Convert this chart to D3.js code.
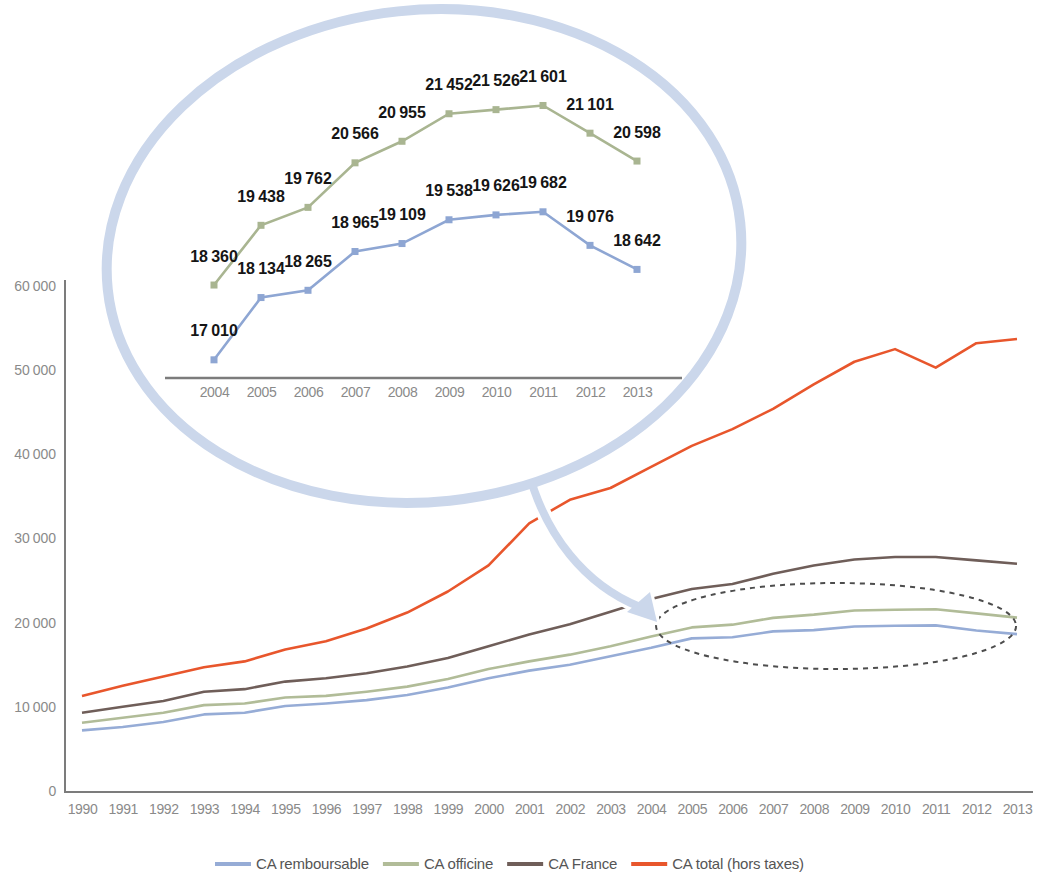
<!DOCTYPE html>
<html lang="fr">
<head>
<meta charset="utf-8">
<title>Chiffre d'affaires des officines</title>
<script src="https://d3js.org/d3.v7.min.js"></script>
<style>
  body { margin: 0; background: #fff; }
  text { font-family: "Liberation Sans", Arial, sans-serif; }
  .axis text { fill: #8a8a8a; font-size: 14px; letter-spacing: -0.4px; }
  .axis path { display: none; }
  .lbl { font-family: "Liberation Sans Narrow", "Arial Narrow", sans-serif; font-weight: bold; font-size: 16px; fill: #151515; letter-spacing: 0.3px; }
  .legend text { fill: #555; font-size: 15px; letter-spacing: -0.2px; }
</style>
</head>
<body>
<div id="chart"></div>
<script>
// main chart, 1990-2013 (millions d'euros)
var years = [1990, 1991, 1992, 1993, 1994, 1995, 1996, 1997, 1998, 1999, 2000, 2001,
             2002, 2003, 2004, 2005, 2006, 2007, 2008, 2009, 2010, 2011, 2012, 2013];
var caRemboursable = [7200, 7600, 8200, 9100, 9300, 10100, 10400, 10800, 11400, 12300, 13400, 14300,
                      15000, 16000, 17010, 18134, 18265, 18965, 19109, 19538, 19626, 19682, 19076, 18642];
var caOfficine = [8100, 8700, 9300, 10200, 10400, 11100, 11300, 11800, 12400, 13300, 14500, 15400,
                  16200, 17200, 18360, 19438, 19762, 20566, 20955, 21452, 21526, 21601, 21101, 20598];
var caFrance = [9300, 10000, 10700, 11800, 12100, 13000, 13400, 14000, 14800, 15800, 17200, 18600,
                19800, 21300, 22800, 24000, 24600, 25800, 26800, 27500, 27800, 27800, 27400, 27000];
var caTotal = [11300, 12500, 13600, 14700, 15400, 16800, 17800, 19300, 21200, 23700, 26800, 31800,
               34600, 36000, 38500, 41000, 43000, 45400, 48300, 51000, 52500, 50300, 53200, 53700];
var seriesNames = ["CA remboursable", "CA officine", "CA France", "CA total (hors taxes)"];
var seriesColors = ["#96acd6", "#b1bc98", "#6f5e59", "#e8562c"];
var yTicks = [0, 10000, 20000, 30000, 40000, 50000, 60000];

// zoom 2004-2013
var zoomYears = [2004, 2005, 2006, 2007, 2008, 2009, 2010, 2011, 2012, 2013];
var zoomOfficine = [18360, 19438, 19762, 20566, 20955, 21452, 21526, 21601, 21101, 20598];
var zoomRemboursable = [17010, 18134, 18265, 18965, 19109, 19538, 19626, 19682, 19076, 18642];
var zoomColors = ["#a9b591", "#8ea6d3"];

var width = 1038, height = 875;
var fr = d3.formatLocale({ decimal: ",", thousands: "\u202f", grouping: [3], currency: ["", " €"] });
var fmt = fr.format(",d");

var svg = d3.select("#chart").append("svg")
    .attr("width", width)
    .attr("height", height);
svg.append("rect").attr("width", width).attr("height", height).attr("fill", "#fff");

var x = d3.scalePoint().domain(years).range([82, 1017]);
var y = d3.scaleLinear().domain([0, 60000]).range([791, 286]);

// axes
svg.append("g").attr("class", "axis")
    .attr("transform", "translate(65,0)")
    .call(d3.axisLeft(y).tickValues(yTicks).tickSize(0).tickPadding(9).tickFormat(fmt));
svg.append("g").attr("class", "axis")
    .attr("transform", "translate(0,792)")
    .call(d3.axisBottom(x).tickSize(0).tickPadding(12));
svg.append("path")
    .attr("d", "M65,280V792H1033")
    .attr("fill", "none").attr("stroke", "#7c7c7c").attr("stroke-width", 2);

// main lines
var mainSeries = [caRemboursable, caOfficine, caFrance, caTotal];
var line = d3.line()
    .x(function (d, i) { return x(years[i]); })
    .y(function (d) { return y(d); });
svg.append("g").selectAll("path")
    .data(mainSeries)
    .enter().append("path")
    .attr("d", line)
    .attr("fill", "none")
    .attr("stroke", function (d, i) { return seriesColors[i]; })
    .attr("stroke-width", 2.6)
    .attr("stroke-linejoin", "round");

// dashed ellipse around 2004-2013
svg.append("ellipse")
    .attr("cx", (x(2004) + x(2013)) / 2 + 2).attr("cy", 626)
    .attr("rx", 180).attr("ry", 43)
    .attr("fill", "none").attr("stroke", "#4d4d4d")
    .attr("stroke-width", 2).attr("stroke-dasharray", "5,5");

// arrow from bubble to dashed ellipse
var shaft = "M528,470C545,535 585,585 640,607";
svg.append("path").attr("d", shaft).attr("fill", "none")
    .attr("stroke", "#fff").attr("stroke-width", 15);
svg.append("path").attr("d", "M657,622L627,612L650,592Z")
    .attr("fill", "#fff").attr("stroke", "#fff").attr("stroke-width", 6).attr("stroke-linejoin", "round");
svg.append("path").attr("d", shaft).attr("fill", "none")
    .attr("stroke", "#cbd7eb").attr("stroke-width", 8);
svg.append("path").attr("d", "M657,622L627,612L650,592Z").attr("fill", "#cbd7eb");

// bubble
svg.append("ellipse")
    .attr("cx", 424).attr("cy", 256).attr("rx", 318).attr("ry", 246)
    .attr("transform", "rotate(-6,424,256)")
    .attr("fill", "#fff").attr("stroke", "#cbd7eb").attr("stroke-width", 10);

// zoom chart
var zx = d3.scalePoint().domain(zoomYears).range([214, 637]);
var zy = d3.scaleLinear().domain([16700, 21700]).range([377, 100]);
svg.append("g").attr("class", "axis")
    .attr("transform", "translate(0,378)")
    .call(d3.axisBottom(zx).tickSize(0).tickPadding(9));
svg.append("line")
    .attr("x1", 165).attr("x2", 682).attr("y1", 378).attr("y2", 378)
    .attr("stroke", "#7c7c7c").attr("stroke-width", 2.5);

var zline = d3.line()
    .x(function (d, i) { return zx(zoomYears[i]); })
    .y(function (d) { return zy(d); });
var zoomSeries = [zoomOfficine, zoomRemboursable];
var zg = svg.append("g").selectAll("g")
    .data(zoomSeries)
    .enter().append("g");
zg.append("path")
    .attr("d", zline)
    .attr("fill", "none")
    .attr("stroke", function (d, i) { return zoomColors[i]; })
    .attr("stroke-width", 2.6);
zg.each(function (s, k) {
    var g = d3.select(this);
    g.selectAll("rect").data(s).enter().append("rect")
        .attr("x", function (d, i) { return zx(zoomYears[i]) - 3.5; })
        .attr("y", function (d) { return zy(d) - 3.5; })
        .attr("width", 7).attr("height", 7)
        .attr("fill", zoomColors[k]);
    g.selectAll("text").data(s).enter().append("text")
        .attr("class", "lbl")
        .attr("x", function (d, i) { return zx(zoomYears[i]); })
        .attr("y", function (d) { return zy(d) - 29; })
        .attr("dy", "0.35em")
        .attr("text-anchor", "middle")
        .text(fmt);
});

// legend
var legend = svg.append("g").attr("class", "legend");
var lx = 215;
seriesNames.forEach(function (name, i) {
    legend.append("line")
        .attr("x1", lx).attr("x2", lx + 36).attr("y1", 864).attr("y2", 864)
        .attr("stroke", seriesColors[i]).attr("stroke-width", 4);
    var t = legend.append("text")
        .attr("x", lx + 41).attr("y", 864).attr("dy", "0.35em")
        .text(name);
    lx += 41 + t.node().getComputedTextLength() + 14;
});
</script>
</body>
</html>
